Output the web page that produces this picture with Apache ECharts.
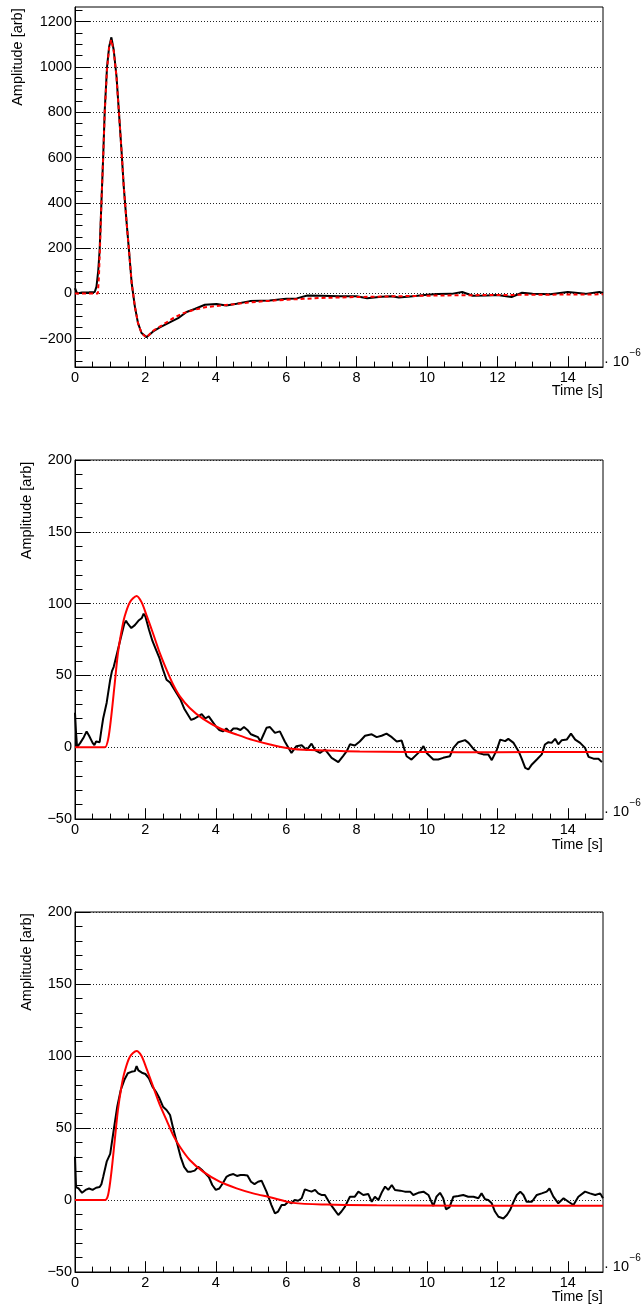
<!DOCTYPE html>
<html>
<head>
<meta charset="utf-8">
<script src="https://cdn.jsdelivr.net/npm/echarts@6/dist/echarts.min.js"></script>
<style>
html,body{margin:0;padding:0;background:#fff;}
#chart{width:643px;height:1309px;}
</style>
</head>
<body>
<div id="chart"></div>
<script>
// ---- tick labels ----
const timeTicks = [0, 2, 4, 6, 8, 10, 12, 14];
const ampTicksTop = [-200, 0, 200, 400, 600, 800, 1000, 1200];
const ampTicksLow = [-50, 0, 50, 100, 150, 200];

// ---- panel 1 (time in 1e-6 s, amplitude) ----
const p1Data = [[0,23],[0.06,0],[0.2,4],[0.4,5],[0.56,6],[0.61,30],[0.66,100],[0.70,192],[0.75,400],[0.80,600],[0.845,809],[0.91,1000],[0.97,1090],[1.034,1131],[1.10,1075],[1.18,957],[1.25,796],[1.32,634],[1.385,472],[1.46,325],[1.54,178],[1.61,46],[1.70,-57],[1.79,-131],[1.89,-175],[2.03,-193],[2.22,-168],[2.41,-150],[2.69,-128],[2.93,-109],[3.17,-82],[3.40,-69],[3.69,-50],[4.02,-47],[4.30,-53],[4.59,-46],[4.97,-34],[5.53,-31],[6.0,-24],[6.3,-22],[6.6,-9],[7.0,-10],[7.5,-12],[8.0,-13],[8.3,-21],[8.7,-15],[9.0,-13],[9.2,-18],[9.6,-12],[10.0,-6],[10.3,-3],[10.7,-2],[11.0,6],[11.3,-10],[11.7,-9],[12.0,-7],[12.4,-16],[12.7,3],[13.0,-2],[13.5,-4],[14.0,6],[14.5,-2],[14.9,6],[15.0,2]];
const p1Fit = [[0,0],[0.65,0],[0.68,75],[0.72,250],[0.75,400],[0.80,600],[0.845,800],[0.91,990],[0.97,1085],[1.03,1120],[1.10,1070],[1.18,955],[1.25,795],[1.32,634],[1.385,472],[1.46,325],[1.54,178],[1.61,46],[1.70,-57],[1.79,-131],[1.89,-175],[2.03,-195],[2.22,-165],[2.5,-138],[2.8,-108],[3.1,-86],[3.4,-72],[3.7,-61],[4.0,-56],[4.5,-48],[5.0,-39],[5.5,-33],[6.0,-28],[6.5,-24],[7.0,-20],[8.0,-16],[9.0,-13],[10.0,-10],[11.0,-8],[12.0,-7],[13.0,-6],[14.0,-5],[15.0,-4]];

// ---- panel 2 ----
const p2Data = [[0,24],[0.03,10],[0.06,0],[0.15,3],[0.25,7],[0.33,11],[0.4,8],[0.5,3],[0.55,1.5],[0.6,4],[0.7,3.5],[0.75,12],[0.8,20],[0.9,31],[1.0,47],[1.05,53],[1.1,56],[1.2,66],[1.3,76],[1.4,86],[1.45,88],[1.5,86],[1.6,83],[1.7,85],[1.8,88],[1.9,90],[1.95,93],[2.0,91],[2.1,82],[2.2,74],[2.3,68],[2.4,62],[2.5,54],[2.6,47],[2.7,45],[2.8,41],[2.9,37],[3.0,33],[3.1,27],[3.2,23],[3.3,19],[3.4,20],[3.5,21.5],[3.6,23],[3.7,20],[3.8,21.5],[3.9,18],[4.0,14.5],[4.1,12],[4.2,11],[4.3,13],[4.4,10.5],[4.5,13],[4.6,13],[4.7,12],[4.8,14],[4.9,12],[5.0,9],[5.1,8],[5.2,7],[5.27,4],[5.36,9],[5.44,13.5],[5.54,14],[5.68,10],[5.82,11],[5.96,4],[6.15,-4],[6.29,0.7],[6.44,1.4],[6.58,-2],[6.72,2.5],[6.82,-2],[6.96,-4],[7.10,-1.6],[7.29,-7.4],[7.48,-10.4],[7.62,-6],[7.72,-2.8],[7.81,2],[7.95,1.2],[8.09,4],[8.24,8],[8.43,9],[8.57,7],[8.71,8],[8.85,9.5],[9.0,7],[9.14,4],[9.28,4.6],[9.42,-6.3],[9.56,-8.6],[9.71,-5],[9.80,-2.8],[9.90,0.7],[9.99,-4],[10.18,-8.6],[10.32,-8.6],[10.46,-7.4],[10.65,-6.3],[10.75,-0.5],[10.89,3.5],[11.08,4.9],[11.18,3],[11.32,-1.2],[11.46,-4],[11.60,-5],[11.74,-5],[11.84,-9],[11.98,-2],[12.08,5.3],[12.22,4.2],[12.31,5.8],[12.46,3],[12.60,-2.8],[12.69,-8],[12.79,-14.4],[12.88,-15.5],[12.98,-12],[13.12,-8.6],[13.26,-5],[13.35,1.9],[13.45,3.5],[13.54,3],[13.64,5.8],[13.73,2],[13.83,4.9],[13.97,5.3],[14.09,9.5],[14.21,5.3],[14.35,3],[14.49,-0.5],[14.59,-6.7],[14.73,-8],[14.87,-8],[14.97,-10.4]];
const p2Fit = [[0,0],[0.7,0],[0.85,0],[0.94,5.3],[1.03,21.5],[1.13,44.7],[1.22,65.5],[1.32,80.6],[1.41,91],[1.56,101],[1.75,105.3],[1.89,101],[2.03,92],[2.22,79],[2.41,65.5],[2.60,54],[2.79,43.5],[2.98,35.4],[3.26,27.3],[3.64,19.7],[4.11,13.2],[4.59,8.8],[5.06,4.9],[5.54,1.9],[6.2,-1.2],[7.15,-2.3],[8.09,-3],[9.5,-3.3],[10.9,-3.5],[13,-3.4],[15,-3.3]];

// ---- panel 3 ----
const p3Data = [[0,30],[0.03,9],[0.1,8],[0.2,5],[0.3,7],[0.4,8],[0.5,7],[0.6,8.5],[0.7,9],[0.75,11],[0.8,16],[0.9,26.6],[1.0,32],[1.1,48.6],[1.2,64.8],[1.3,76.4],[1.4,83.3],[1.5,88],[1.6,89],[1.7,89.5],[1.75,93],[1.8,90],[1.9,88.4],[2.0,87.5],[2.1,84.5],[2.2,78.7],[2.3,75.2],[2.4,70.6],[2.5,64.8],[2.6,62.5],[2.7,59],[2.8,48.6],[2.9,39.4],[3.0,30],[3.1,23],[3.2,19.7],[3.3,19.7],[3.4,20.4],[3.5,23],[3.6,21],[3.7,18.5],[3.8,16],[3.9,10.4],[4.0,7],[4.1,8],[4.2,11.6],[4.3,16],[4.4,17.4],[4.5,18],[4.6,16.7],[4.7,17.4],[4.8,17.4],[4.9,17],[5.0,12.7],[5.1,11],[5.2,12.7],[5.3,13.4],[5.35,12.5],[5.44,5.8],[5.58,-3.5],[5.68,-9.3],[5.77,-8],[5.87,-3.5],[5.96,-3.5],[6.06,-1.2],[6.15,-2.3],[6.24,0],[6.34,-0.5],[6.44,1.2],[6.53,7.4],[6.63,6.5],[6.72,5.8],[6.82,7],[6.91,4.6],[7.0,3.5],[7.10,3.5],[7.24,-2.3],[7.38,-7],[7.48,-10.4],[7.57,-8],[7.67,-4.6],[7.81,2.3],[7.95,2.3],[8.05,5.8],[8.19,3.5],[8.33,4.2],[8.43,-1.2],[8.52,2.3],[8.62,0],[8.71,5],[8.81,9.3],[8.90,7],[9.0,10.4],[9.09,7],[9.24,6.5],[9.37,5.8],[9.52,5.8],[9.61,3.5],[9.75,5],[9.90,5.8],[10.04,3.5],[10.18,-4.2],[10.27,2.3],[10.37,5],[10.46,1.2],[10.54,-6.5],[10.64,-5],[10.75,2.3],[10.89,2.8],[11.03,3.5],[11.17,2.3],[11.32,2.3],[11.46,1.2],[11.55,4.6],[11.65,0.5],[11.74,0],[11.84,-2.3],[11.93,-8],[12.03,-11.6],[12.17,-12.8],[12.27,-10.4],[12.36,-7],[12.46,-1.2],[12.55,3.5],[12.65,5.8],[12.74,3.5],[12.83,-1.2],[12.98,-1.2],[13.12,3.5],[13.26,4.6],[13.40,5.8],[13.48,8],[13.59,2.3],[13.73,-2.3],[13.88,1.2],[14.02,-1.2],[14.16,-3.5],[14.30,2.3],[14.49,5.8],[14.63,4.6],[14.78,3.5],[14.92,4.6],[15.0,1.2]];
const p3Fit = [[0,0],[0.7,0],[0.85,0],[0.94,3.5],[1.03,18.5],[1.13,41.7],[1.22,62.5],[1.32,78.7],[1.41,89],[1.56,99.5],[1.75,103.5],[1.89,100],[2.03,91.4],[2.22,78.7],[2.41,66],[2.60,55.5],[2.79,45],[2.98,37],[3.26,27.8],[3.64,19.7],[4.11,12.7],[4.59,8.1],[5.06,4.6],[5.54,1.9],[6.2,-2],[7.15,-3.2],[8.57,-3.7],[10.9,-4],[13,-4],[15,-4]];

// ---------------------------------------------------------------
const FONT = "'Liberation Sans', Arial, Helvetica, sans-serif";
const FS = 14.5;

function range(a, b, step, exclude) {
  const out = [];
  for (let v = a; v <= b + 1e-9; v += step) {
    const r = Math.round(v * 1000) / 1000;
    if (!exclude.some(e => Math.abs(e - r) < 1e-9)) out.push(r);
  }
  return out;
}

const panels = [
  {top: 7, height: 360, ymin: -325, ymax: 1265, yTicks: ampTicksTop, yMinorStep: 50, yMinorFrom: -300, data: p1Data, fit: p1Fit, dashed: true,
   ytitle: {x: 18.3, y: 8.3}, xtitleY: 390.5, expY: 361.7},
  {top: 460, height: 359, ymin: -50, ymax: 200, yTicks: ampTicksLow, yMinorStep: 10, yMinorFrom: -50, data: p2Data, fit: p2Fit, dashed: false,
   ytitle: {x: 27, y: 461.7}, xtitleY: 845, expY: 811.7},
  {top: 912, height: 360, ymin: -50, ymax: 200, yTicks: ampTicksLow, yMinorStep: 10, yMinorFrom: -50, data: p3Data, fit: p3Fit, dashed: false,
   ytitle: {x: 27, y: 913.3}, xtitleY: 1297, expY: 1266.7}
];

const LEFT = 75, WIDTH = 528;
const grid = [], xAxis = [], yAxis = [], series = [], graphic = [];
const xMinor = range(0, 15, 0.5, timeTicks.concat([15]));
const minus = v => String(v).replace('-', '\u2212');

panels.forEach((p, i) => {
  grid.push({left: LEFT, top: p.top, width: WIDTH, height: p.height, show: true, borderColor: '#000', borderWidth: 1, containLabel: false});
  const xi = xAxis.length, yi = yAxis.length;
  xAxis.push({
    type: 'value', gridIndex: i, min: 0, max: 15, position: 'bottom',
    axisLine: {show: true, onZero: false, lineStyle: {color: '#000', width: 1}},
    axisTick: {show: true, inside: true, length: 10.8, customValues: timeTicks, lineStyle: {color: '#000', width: 1}},
    axisLabel: {show: true, customValues: timeTicks, margin: 3, color: '#000', fontFamily: FONT, fontSize: FS},
    splitLine: {show: false}
  });
  xAxis.push({
    type: 'value', gridIndex: i, min: 0, max: 15, position: 'bottom',
    axisLine: {show: false, onZero: false},
    axisTick: {show: true, inside: true, length: 5.4, customValues: xMinor, lineStyle: {color: '#000', width: 1}},
    axisLabel: {show: false},
    splitLine: {show: false}
  });
  const yMinor = range(p.yMinorFrom, p.ymax, p.yMinorStep, p.yTicks).filter(v => v >= p.ymin && v <= p.ymax);
  yAxis.push({
    type: 'value', gridIndex: i, min: p.ymin, max: p.ymax, position: 'left',
    axisLine: {show: true, onZero: false, lineStyle: {color: '#000', width: 1}},
    axisTick: {show: true, inside: true, length: 15, customValues: p.yTicks, lineStyle: {color: '#000', width: 1}},
    axisLabel: {show: true, customValues: p.yTicks, margin: 3, color: '#000', fontFamily: FONT, fontSize: FS, formatter: minus},
    splitLine: {show: true, lineStyle: {color: '#222', width: 1, type: [1, 2]}}
  });
  yAxis.push({
    type: 'value', gridIndex: i, min: p.ymin, max: p.ymax, position: 'left',
    axisLine: {show: false, onZero: false},
    axisTick: {show: true, inside: true, length: 7.5, customValues: yMinor, lineStyle: {color: '#000', width: 1}},
    axisLabel: {show: false},
    splitLine: {show: false}
  });
  series.push({
    type: 'line', xAxisIndex: xi, yAxisIndex: yi, data: p.data, showSymbol: false, symbol: 'none',
    lineStyle: {color: '#000', width: 2}, z: 3, clip: true
  });
  series.push({
    type: 'line', xAxisIndex: xi, yAxisIndex: yi, data: p.fit, showSymbol: false, symbol: 'none',
    smooth: p.dashed ? false : 0.3,
    lineStyle: {color: '#ff0000', width: 2, type: p.dashed ? [4, 3] : 'solid'}, z: 4, clip: true
  });
  graphic.push({
    type: 'text', x: p.ytitle.x, y: p.ytitle.y, rotation: Math.PI / 2,
    style: {text: 'Amplitude [arb]', fill: '#000', font: FS + 'px ' + FONT, align: 'right', verticalAlign: 'middle'}
  });
  graphic.push({
    type: 'text', x: 602.7, y: p.xtitleY,
    style: {text: 'Time [s]', fill: '#000', font: FS + 'px ' + FONT, align: 'right', verticalAlign: 'middle'}
  });
  graphic.push({
    type: 'text', x: 604, y: p.expY,
    style: {text: '\u00b7 10', fill: '#000', font: FS + 'px ' + FONT, align: 'left', verticalAlign: 'middle'}
  });
  graphic.push({
    type: 'text', x: 629.5, y: p.expY - 8.5,
    style: {text: '\u22126', fill: '#000', font: '10px ' + FONT, align: 'left', verticalAlign: 'middle'}
  });
});

const chart = echarts.init(document.getElementById('chart'), null, {renderer: 'canvas'});
chart.setOption({
  animation: false,
  backgroundColor: '#fff',
  grid, xAxis, yAxis, series, graphic
});
</script>
</body>
</html>
